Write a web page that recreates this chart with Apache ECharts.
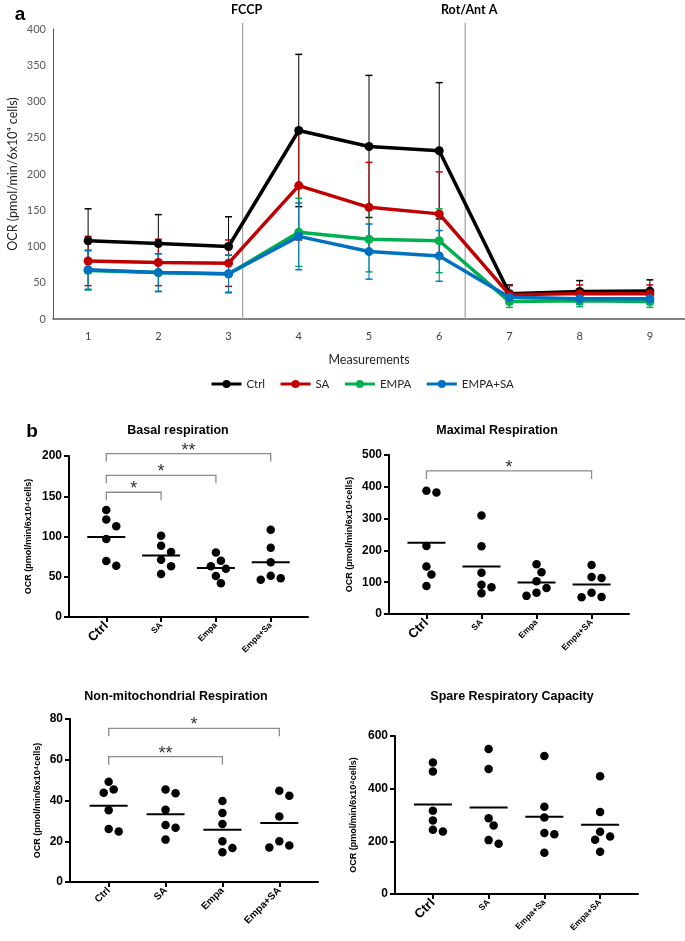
<!DOCTYPE html>
<html><head><meta charset="utf-8">
<script src="https://cdn.jsdelivr.net/npm/echarts@6/dist/echarts.min.js"></script>
<style>html,body{margin:0;padding:0;background:#fff}#c{width:685px;height:941px}</style>
</head><body><div id="c"></div>
<script>
// ---------- Panel a data ----------
const measurements = [1,2,3,4,5,6,7,8,9];
const ctrlMean   = [108,104,100,260,238,232,35,38,38.5];
const ctrlErr    = [44,40,41,105,98,94,12,15,15.5];
const saMean     = [80,78,77,184,154,145,33.5,35,35];
const saErr      = [34,32,32,75,62,58,12.5,12,12];
const empaMean   = [67,64,62,119.5,110,108,24,25,24];
const empaErr    = [27,26,26,47,45,44,8,8,8];
const empaSaMean = [68,64,62.5,114,93,87,30,28,28];
const empaSaErr  = [27,26,25.5,46,38,35,8,8,8];
const injectionNames = ['FCCP','Rot/Ant A'];
const injectionAt    = [3.2, 6.37];

// ---------- Panel b data ----------
const basalCats   = ['Ctrl','SA','Empa','Empa+Sa'];
const basalCtrl   = [133,121,112.6,97,69.6,63.8];
const basalSA     = [101,88.6,80.7,71,63,53.4];
const basalEmpa   = [80,63,70,60,51,42];
const basalEmpaSA = [108.5,86,68,51.3,46.4,48];
const basalSig    = [[0,1,155,'*'],[0,2,176,'*'],[0,3,203,'**']];

const maxCats   = ['Ctrl','SA','Empa','Empa+SA'];
const maxCtrl   = [387.6,382,214,149,124,88];
const maxSA     = [310,213,130,92,84,65];
const maxEmpa   = [156.5,131,103,82,67,57];
const maxEmpaSA = [154,116.6,113.4,67,52.5,53.6];
const maxSig    = [[0,3,450,'*']];

const nonCats   = ['Ctrl','SA','Empa','Empa+SA'];
const nonCtrl   = [49.2,43.8,45.4,35.2,24.8,26];
const nonSA     = [45.4,43.6,35.4,28,26.6,20.8];
const nonEmpa   = [39.8,33.9,28.5,20,14.6,16.7];
const nonEmpaSA = [44.8,42.3,32.1,20,16.9,17.9];
const nonSig    = [[0,2,61.5,'**'],[0,3,75.4,'*']];

const spareCats   = ['Ctrl','SA','Empa+Sa','Empa+SA'];
const spareCtrl   = [499,465,316,279,237.5,244];
const spareSA     = [551,475,288,260,191,204.6];
const spareEmpa   = [524,331,290.5,232,227,156.6];
const spareEmpaSA = [447,311,218.5,206,236,160];
const spareSig    = [];

// ---------- styling / layout ----------
const A_FONT = 'Lato';
const B_FONT = '"Liberation Sans", Arial, sans-serif';
const colors = {ctrl:'#000000', sa:'#C00000', empa:'#00B050', empaSa:'#0070C0'};

const panels = [
  {title:'Basal respiration', cats:basalCats, groups:[basalCtrl,basalSA,basalEmpa,basalEmpaSA], sig:basalSig,
   max:200, interval:50, left:69, top:456, width:239, height:161, tx:178, ty:431, nameGap:36, bigCtrl:true, small:8.5},
  {title:'Maximal Respiration', cats:maxCats, groups:[maxCtrl,maxSA,maxEmpa,maxEmpaSA], sig:maxSig,
   max:500, interval:100, left:389, top:455, width:240, height:159, tx:497, ty:431, nameGap:35, bigCtrl:true, small:8.5},
  {title:'Non-mitochondrial Respiration', cats:nonCats, groups:[nonCtrl,nonSA,nonEmpa,nonEmpaSA], sig:nonSig,
   max:80, interval:20, left:70, top:719, width:248, height:163, tx:176, ty:697, nameGap:28, bigCtrl:false, small:10},
  {title:'Spare Respiratory Capacity', cats:spareCats, groups:[spareCtrl,spareSA,spareEmpa,spareEmpaSA], sig:spareSig,
   max:600, interval:200, left:395, top:736, width:243, height:158, tx:512, ty:697, nameGap:37, bigCtrl:true, small:8.5}
];
const X_PAD = 0.68;

function swarmSlots(vals, pxPerY, stepPx, dmin) {
  const order = vals.map((v,i)=>i).sort((a,b)=>vals[b]-vals[a]);
  const slots = new Array(vals.length); const placed = [];
  for (const i of order) {
    for (const s of [0,1,-1,2,-2,3,-3]) {
      const ok = placed.every(p => {
        const dx = (p.s - s) * stepPx, dy = (p.v - vals[i]) * pxPerY;
        return Math.sqrt(dx*dx + dy*dy) >= dmin;
      });
      if (ok) { slots[i] = s; placed.push({s, v: vals[i]}); break; }
    }
  }
  return slots;
}

const grids = [{left:53, top:29, width:632, height:290, outerBoundsMode:'none', containLabel:false}];
const xAxes = [{
  gridIndex:0, type:'value', min:0.5, max:9.5,
  axisLine:{show:true, onZero:false, lineStyle:{color:'#595959', width:1.5}},
  axisTick:{show:false}, splitLine:{show:false},
  axisLabel:{customValues:measurements, color:'#404040', fontSize:11, fontFamily:A_FONT, margin:12},
  name:'Measurements', nameLocation:'middle', nameGap:34, nameMoveOverlap:false,
  nameTextStyle:{fontSize:12.5, color:'#262626', fontFamily:A_FONT}
}];
const yAxes = [{
  gridIndex:0, type:'value', min:0, max:400, interval:50,
  axisLine:{show:true, onZero:false, lineStyle:{color:'#595959', width:1}},
  axisTick:{show:false}, splitLine:{show:false},
  axisLabel:{fontSize:11, color:'#595959', fontFamily:A_FONT, margin:7},
  name:'OCR (pmol/min/6x10\u2074 cells)', nameLocation:'middle', nameGap:34, nameMoveOverlap:false,
  nameTextStyle:{fontSize:12.5, color:'#262626', fontFamily:A_FONT}
}];

const series = [];
const topSeries = [
  ['Ctrl', ctrlMean, ctrlErr, colors.ctrl],
  ['SA', saMean, saErr, colors.sa],
  ['EMPA', empaMean, empaErr, colors.empa],
  ['EMPA+SA', empaSaMean, empaSaErr, colors.empaSa]
];
topSeries.forEach(([name, means, errs, color], k) => {
  series.push({
    type:'custom', name:name+' err', xAxisIndex:0, yAxisIndex:0, z:2, silent:true,
    data: measurements.map((m,i)=>[m, means[i]-errs[i], means[i]+errs[i]]),
    renderItem:(params, api) => {
      const lo = api.coord([api.value(0), api.value(1)]);
      const hi = api.coord([api.value(0), api.value(2)]);
      const w = 3.5;
      return {type:'group', children:[
        {type:'line', shape:{x1:lo[0], y1:lo[1], x2:hi[0], y2:hi[1]}, style:{stroke:color, lineWidth:1}},
        {type:'line', shape:{x1:lo[0]-w, y1:lo[1], x2:lo[0]+w, y2:lo[1]}, style:{stroke:color, lineWidth:1.5}},
        {type:'line', shape:{x1:hi[0]-w, y1:hi[1], x2:hi[0]+w, y2:hi[1]}, style:{stroke:color, lineWidth:1.5}}
      ]};
    }
  });
});
topSeries.forEach(([name, means, errs, color], k) => {
  series.push({
    type:'line', name:name, xAxisIndex:0, yAxisIndex:0, z:3 + k*0.1,
    data: measurements.map((m,i)=>[m, means[i]]),
    symbol:'circle', symbolSize:9, showSymbol:true,
    lineStyle:{color, width:3.5}, itemStyle:{color}
  });
});
series.push({
  type:'custom', xAxisIndex:0, yAxisIndex:0, z:1, silent:true, clip:false,
  data: injectionAt.map(x=>[x, 0]),
  renderItem:(params, api) => {
    const x = api.value(0);
    const b = api.coord([x, 0]);
    const t = api.coord([x, 400]);
    return {type:'group', children:[
      {type:'line', shape:{x1:b[0], y1:b[1], x2:b[0], y2:t[1]-6}, style:{stroke:'#a6a6a6', lineWidth:1.3}},
      {type:'text', x:b[0]+4, y:t[1]-19, style:{text:injectionNames[params.dataIndex], font:'bold 12.5px '+A_FONT,
        fill:'#000', align:'center', verticalAlign:'middle', textAlign:'center', textVerticalAlign:'middle'}}
    ]};
  }
});

const graphics = [
  {type:'text', x:20, y:15, style:{text:'a', font:'bold 19px '+B_FONT, fill:'#000', align:'center', verticalAlign:'middle', textAlign:'center', textVerticalAlign:'middle'}},
  {type:'text', x:32, y:432, style:{text:'b', font:'bold 19px '+B_FONT, fill:'#000', align:'center', verticalAlign:'middle', textAlign:'center', textVerticalAlign:'middle'}}
];

panels.forEach((p, idx) => {
  const gi = idx + 1;
  grids.push({left:p.left, top:p.top, width:p.width, height:p.height, outerBoundsMode:'none', containLabel:false});
  const pxPerX = p.width / (3 + 2*X_PAD);
  const pxPerY = p.height / p.max;
  xAxes.push({
    gridIndex:gi, type:'value', min:-X_PAD, max:3 + X_PAD,
    axisLine:{show:true, onZero:false, lineStyle:{color:'#000', width:2}},
    axisTick:{show:true, customValues:[0,1,2,3], length:5, lineStyle:{color:'#000', width:2}},
    splitLine:{show:false},
    axisLabel:{customValues:[0,1,2,3], rotate:45, margin:7, color:'#000',
      formatter:(v)=>{ const i = Math.round(v); const n = p.cats[i]; return (p.bigCtrl && i===0) ? '{big|'+n+'}' : '{sm|'+n+'}'; },
      rich:{big:{fontSize:13, fontWeight:'bold', fontFamily:B_FONT, color:'#000'},
            sm:{fontSize:p.small, fontWeight:'bold', fontFamily:B_FONT, color:'#000'}}}
  });
  yAxes.push({
    gridIndex:gi, type:'value', min:0, max:p.max, interval:p.interval,
    axisLine:{show:true, onZero:false, lineStyle:{color:'#000', width:2}},
    axisTick:{show:true, length:5, lineStyle:{color:'#000', width:2}},
    splitLine:{show:false},
    axisLabel:{fontSize:12, fontWeight:'bold', fontFamily:B_FONT, color:'#000', margin:7},
    name:'OCR (pmol/min/6x10\u2074cells)', nameLocation:'middle', nameGap:p.nameGap, nameMoveOverlap:false,
    nameTextStyle:{fontSize:9, fontWeight:'bold', fontFamily:B_FONT, color:'#000'}
  });
  graphics.push({type:'text', x:p.tx, y:p.ty, style:{text:p.title, font:'bold 12.5px '+B_FONT, fill:'#000',
    align:'center', verticalAlign:'middle', textAlign:'center', textVerticalAlign:'middle'}});

  const pts = [];
  const stepX = 5 / pxPerX;
  p.groups.forEach((vals, g) => {
    const slots = swarmSlots(vals, pxPerY, 5, 8.5);
    vals.forEach((v, i) => pts.push([g + slots[i]*stepX, v]));
  });
  series.push({type:'scatter', xAxisIndex:gi, yAxisIndex:gi, data:pts, symbol:'circle', symbolSize:8.5,
    itemStyle:{color:'#000', opacity:1}, z:3, silent:true});
  const means = p.groups.map((vals, g) => [g, vals.reduce((a,b)=>a+b,0)/vals.length]);
  series.push({type:'custom', xAxisIndex:gi, yAxisIndex:gi, data:means, z:4, silent:true, clip:false,
    renderItem:(params, api) => {
      const c = api.coord([api.value(0), api.value(1)]);
      return {type:'line', shape:{x1:c[0]-19, y1:c[1], x2:c[0]+19, y2:c[1]}, style:{stroke:'#000', lineWidth:2}};
    }});
  if (p.sig.length) {
    series.push({type:'custom', xAxisIndex:gi, yAxisIndex:gi, data:p.sig.map(s=>[s[0], s[1], s[2]]), z:5, silent:true, clip:false,
      renderItem:(params, api) => {
        const a = api.coord([api.value(0), api.value(2)]);
        const b = api.coord([api.value(1), api.value(2)]);
        const drop = 8;
        return {type:'group', children:[
          {type:'polyline', shape:{points:[[a[0], a[1]+drop],[a[0], a[1]],[b[0], b[1]],[b[0], b[1]+drop]]},
            style:{stroke:'#8c8c8c', lineWidth:1.3, fill:null}},
          {type:'text', x:(a[0]+b[0])/2, y:a[1]-3, style:{text:p.sig[params.dataIndex][3], font:'18px '+B_FONT, fill:'#333',
            align:'center', verticalAlign:'middle', textAlign:'center', textVerticalAlign:'middle'}}
        ]};
      }});
  }
});

const option = {
  animation:false,
  backgroundColor:'#fff',
  grid:grids, xAxis:xAxes, yAxis:yAxes,
  legend:{data:['Ctrl','SA','EMPA','EMPA+SA'], left:205, top:373, itemWidth:30, itemHeight:10, itemGap:14,
    lineStyle:{width:3}, textStyle:{fontSize:11.5, color:'#262626', fontFamily:A_FONT}},
  graphic:graphics,
  series
};
const chart = echarts.init(document.getElementById('c'), null, {renderer:'canvas'});
chart.setOption(option);
</script></body></html>
